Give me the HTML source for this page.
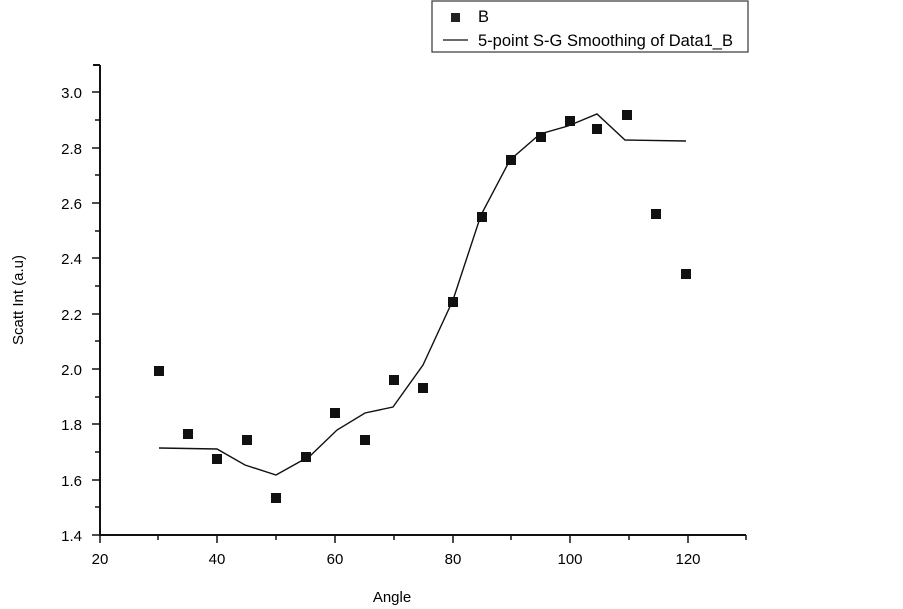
<!DOCTYPE html>
<html><head><style>body{margin:0;background:#fff}svg{display:block}</style></head><body>
<svg width="903" height="609" xmlns="http://www.w3.org/2000/svg" font-family="Liberation Sans, sans-serif" font-size="15">
<rect width="903" height="609" fill="#fff"/>
<rect x="432" y="1" width="316" height="51" fill="#fff" stroke="#444" stroke-width="1.3"/>
<rect x="451" y="13" width="9" height="9" fill="#222"/>
<text x="478" y="22" font-size="16.5">B</text>
<line x1="443" y1="40" x2="468" y2="40" stroke="#111" stroke-width="1.3"/>
<text x="478" y="46" font-size="16.5">5-point S-G Smoothing of Data1_B</text>
<g stroke="#111" stroke-width="2" fill="none">
<line x1="100" y1="65" x2="100" y2="536"/>
<line x1="99" y1="535" x2="746" y2="535"/>
<line x1="93" y1="65" x2="100" y2="65"/>
</g>
<g stroke="#111" stroke-width="1.5">
<line x1="92" y1="92" x2="100" y2="92"/><line x1="92" y1="148" x2="100" y2="148"/><line x1="92" y1="203" x2="100" y2="203"/><line x1="92" y1="258" x2="100" y2="258"/><line x1="92" y1="314" x2="100" y2="314"/><line x1="92" y1="369" x2="100" y2="369"/><line x1="92" y1="424" x2="100" y2="424"/><line x1="92" y1="480" x2="100" y2="480"/><line x1="92" y1="535" x2="100" y2="535"/>
<line x1="95" y1="120" x2="100" y2="120"/><line x1="95" y1="175" x2="100" y2="175"/><line x1="95" y1="231" x2="100" y2="231"/><line x1="95" y1="286" x2="100" y2="286"/><line x1="95" y1="341" x2="100" y2="341"/><line x1="95" y1="397" x2="100" y2="397"/><line x1="95" y1="452" x2="100" y2="452"/><line x1="95" y1="507" x2="100" y2="507"/>
<line x1="100" y1="535" x2="100" y2="543"/><line x1="217" y1="535" x2="217" y2="543"/><line x1="335" y1="535" x2="335" y2="543"/><line x1="453" y1="535" x2="453" y2="543"/><line x1="570" y1="535" x2="570" y2="543"/><line x1="688" y1="535" x2="688" y2="543"/>
<line x1="158" y1="535" x2="158" y2="540"/><line x1="276" y1="535" x2="276" y2="540"/><line x1="394" y1="535" x2="394" y2="540"/><line x1="511" y1="535" x2="511" y2="540"/><line x1="629" y1="535" x2="629" y2="540"/><line x1="746" y1="535" x2="746" y2="540"/>
</g>
<g text-anchor="end">
<text x="82" y="98">3.0</text><text x="82" y="154">2.8</text><text x="82" y="209">2.6</text><text x="82" y="264">2.4</text><text x="82" y="320">2.2</text><text x="82" y="375">2.0</text><text x="82" y="430">1.8</text><text x="82" y="486">1.6</text><text x="82" y="541">1.4</text>
</g>
<g text-anchor="middle">
<text x="100" y="564">20</text><text x="217" y="564">40</text><text x="335" y="564">60</text><text x="453" y="564">80</text><text x="570" y="564">100</text><text x="688" y="564">120</text>
<text x="392" y="602">Angle</text>
<text transform="translate(23,300) rotate(-90)">Scatt Int (a.u)</text>
</g>
<polyline fill="none" stroke="#111" stroke-width="1.4" points="159,448 217,449 245,465 276,475 310,456 337,430 365,413 393,407 423,365 453,300 481,215 510,160 540,134 568,126 597,114 625,140 686,141"/>
<g fill="#111">
<rect x="154" y="366" width="10" height="10"/>
<rect x="183" y="429" width="10" height="10"/>
<rect x="212" y="454" width="10" height="10"/>
<rect x="242" y="435" width="10" height="10"/>
<rect x="271" y="493" width="10" height="10"/>
<rect x="301" y="452" width="10" height="10"/>
<rect x="330" y="408" width="10" height="10"/>
<rect x="360" y="435" width="10" height="10"/>
<rect x="389" y="375" width="10" height="10"/>
<rect x="418" y="383" width="10" height="10"/>
<rect x="448" y="297" width="10" height="10"/>
<rect x="477" y="212" width="10" height="10"/>
<rect x="506" y="155" width="10" height="10"/>
<rect x="536" y="132" width="10" height="10"/>
<rect x="565" y="116" width="10" height="10"/>
<rect x="592" y="124" width="10" height="10"/>
<rect x="622" y="110" width="10" height="10"/>
<rect x="651" y="209" width="10" height="10"/>
<rect x="681" y="269" width="10" height="10"/>
</g>
</svg>
</body></html>
